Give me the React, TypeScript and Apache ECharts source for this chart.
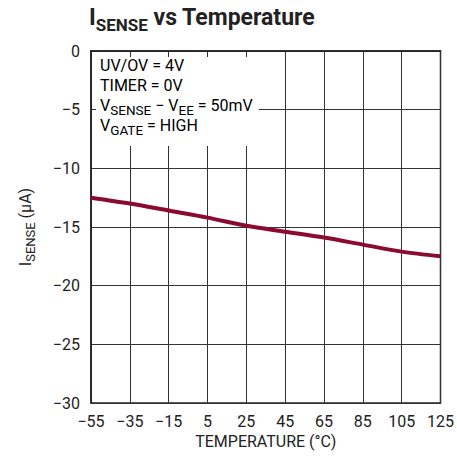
import React, { useEffect, useRef } from 'react';
import * as echarts from 'echarts';

const temperatures = [-55, -35, -15, 5, 25, 45, 65, 85, 105, 125];
const isenseValues = [-12.5, -13.0, -13.6, -14.2, -14.9, -15.4, -15.9, -16.5, -17.1, -17.5];
const yMin = -30;
const yMax = 0;
const yStep = 5;
const titleRich = '{m|I}{s|SENSE}{m| vs Temperature}';
const yAxisNameRich = '{m|I}{s|SENSE}{m| (µA)}';
const xAxisName = 'TEMPERATURE (°C)';
const conditionLines = [
  '{m|UV/OV = 4V}',
  '{m|TIMER = 0V}',
  '{m|V}{s|SENSE}{m| \u2212 V}{s|EE}{m| = 50mV}',
  '{m|V}{s|GATE}{m| = HIGH}',
];

const FONT = "Roboto, 'Liberation Sans', sans-serif";
const fmtMinus = (v: number | string) => String(v).replace('-', '\u2212');

export default function App() {
  const ref = useRef<HTMLDivElement>(null);
  useEffect(() => {
    if (!ref.current) return;
    const chart = echarts.init(ref.current, null, { renderer: 'svg' });
    const textRich = {
      m: { fontFamily: FONT, fontSize: 16, color: '#222', lineHeight: 16, padding: [0, 0, 4, 0], verticalAlign: 'bottom' },
      s: { fontFamily: FONT, fontSize: 13.5, color: '#222', lineHeight: 12, verticalAlign: 'bottom' },
    };
    chart.setOption({
      animation: false,
      backgroundColor: '#fff',
      title: {
        text: titleRich,
        left: 89,
        top: 5,
        padding: 0,
        textStyle: {
          rich: {
            m: { fontFamily: FONT, fontSize: 23, fontWeight: 'bold', color: '#222', lineHeight: 28, padding: [0, 0, 4, 0], verticalAlign: 'bottom' },
            s: { fontFamily: FONT, fontSize: 17, fontWeight: 'bold', color: '#222', lineHeight: 20, verticalAlign: 'bottom' },
          },
        },
      },
      grid: {
        left: 91,
        right: 14,
        top: 51,
        bottom: 60,
        show: true,
        borderColor: '#222',
        borderWidth: 1.5,
        backgroundColor: 'transparent',
      },
      xAxis: {
        type: 'category',
        data: temperatures.map(String),
        boundaryGap: false,
        name: xAxisName,
        nameLocation: 'middle',
        nameGap: 29,
        nameTextStyle: { fontFamily: FONT, fontSize: 16, color: '#222' },
        axisLine: { show: true, lineStyle: { color: '#222', width: 1.5 } },
        axisTick: { show: false },
        axisLabel: { interval: 0, fontFamily: FONT, fontSize: 16, color: '#222', margin: 10, formatter: (v: string) => fmtMinus(v) },
        splitLine: { show: true, interval: 0, lineStyle: { color: '#333', width: 1 } },
      },
      yAxis: {
        type: 'value',
        min: yMin,
        max: yMax,
        interval: yStep,
        name: yAxisNameRich,
        nameLocation: 'middle',
        nameRotate: 90,
        nameGap: 54,
        nameTextStyle: {
          rich: {
            m: { fontFamily: FONT, fontSize: 16, color: '#222', lineHeight: 16, padding: [0, 0, 4, 0], verticalAlign: 'bottom' },
            s: { fontFamily: FONT, fontSize: 13, color: '#222', lineHeight: 12, verticalAlign: 'bottom' },
          },
        },
        axisLine: { show: true, lineStyle: { color: '#222', width: 1.5 } },
        axisTick: { show: false },
        axisLabel: { fontFamily: FONT, fontSize: 16, color: '#222', margin: 11, formatter: (v: number) => fmtMinus(v) },
        splitLine: { show: true, lineStyle: { color: '#333', width: 1 } },
      },
      series: [
        {
          type: 'line',
          data: isenseValues,
          smooth: 0.3,
          symbol: 'none',
          lineStyle: { color: '#8c0a2e', width: 4 },
          z: 5,
        },
      ],
      graphic: [
        {
          type: 'rect',
          z: 100,
          shape: { x: 96, y: 57, width: 163, height: 89 },
          style: { fill: '#fff' },
        },
        ...conditionLines.map((line, i) => ({
          type: 'text',
          z: 101,
          x: 100,
          y: 61 + i * 20,
          style: { text: line, rich: textRich, verticalAlign: 'top', align: 'left' },
        })),
      ],
    });
    return () => chart.dispose();
  }, []);
  return <div ref={ref} style={{ position: 'absolute', left: 0, top: 0, width: 457, height: 463 }} />;
}
